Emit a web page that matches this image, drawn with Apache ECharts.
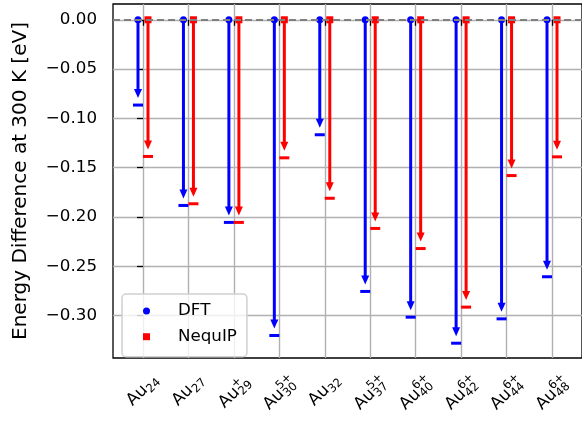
<!DOCTYPE html>
<html><head><meta charset="utf-8">
<script src="https://cdn.jsdelivr.net/npm/echarts@6/dist/echarts.min.js"></script>
<style>html,body{margin:0;padding:0;background:#fff}#c{width:582px;height:423px}</style>
</head><body><div id="c"></div>
<script>
// ---- data ----
const labelBase = 'Au';
const labelSub = ['24','27','29','30','32','37','40','42','44','48'];
const labelSup = ['','','+','5+','','5+','6+','6+','6+','6+'];
const dftValues    = [-0.0865,-0.1883,-0.2055,-0.3202,-0.1166,-0.2755,-0.3016,-0.3280,-0.3033,-0.2606];
const nequipValues = [-0.1386,-0.1866,-0.2055,-0.1400,-0.1810,-0.2116,-0.2320,-0.2914,-0.1580,-0.1390];
const yTicks = [0,-0.05,-0.10,-0.15,-0.20,-0.25,-0.30];
const xTicks = [0,1,2,3,4,5,6,7,8,9];
const seriesNames = ['DFT','NequIP'];

// ---- layout / style ----
const FONT = 'DejaVu Sans';
const Y_MIN = -0.343, Y_MAX = 0.016;
const X_MIN = -0.66, X_MAX = 9.66;
const OFF = 0.11;
const BLUE = '#0000ff', RED = '#ff0000';

const mctx = document.createElement('canvas').getContext('2d');
function textW(t, size){ mctx.font = size + 'px "' + FONT + '"'; return mctx.measureText(t).width; }

function arrowRenderer(color, offset, marker){
  return function(params, api){
    const i = api.value(0), v = api.value(1);
    const p0 = api.coord([i + offset, 0]);
    const p1 = api.coord([i + offset, v]);
    const x = p0[0];
    const tipY = p1[1] - 7;
    const headH = 9, headW = 8;
    const children = [
      {type:'line', shape:{x1:x, y1:p0[1], x2:x, y2:tipY - headH + 1}, style:{stroke:color, lineWidth:3}},
      {type:'polygon', shape:{points:[[x - headW/2, tipY - headH],[x + headW/2, tipY - headH],[x, tipY]]}, style:{fill:color}},
      {type:'line', shape:{x1:x - 5, y1:p1[1], x2:x + 5, y2:p1[1]}, style:{stroke:color, lineWidth:3}}
    ];
    if (marker === 'circle') {
      children.push({type:'circle', shape:{cx:x, cy:p0[1], r:3.5}, style:{fill:color}});
    } else {
      children.push({type:'rect', shape:{x:x - 3.5, y:p0[1] - 3.5, width:7, height:7}, style:{fill:color}});
    }
    return {type:'group', children: children};
  };
}

function labelRenderer(params, api){
  const i = api.value(0);
  const p = api.coord([i, Y_MIN]);
  const big = 16.7, small = 11.7;
  const sub = labelSub[i], sup = labelSup[i];
  const wA = textW(labelBase, big);
  const wS = Math.max(textW(sub, small), sup ? textW(sup, small) : 0);
  const W = wA + wS;
  const yTop = sup ? -15.5 : -12.2, yBot = 3.5;
  const c = Math.SQRT1_2;
  const corners = [[0,yTop],[W,yTop],[0,yBot],[W,yBot]].map(q => [c*(q[0]+q[1]), c*(q[1]-q[0])]);
  const minX = Math.min(...corners.map(q=>q[0])), maxX = Math.max(...corners.map(q=>q[0]));
  const minY = Math.min(...corners.map(q=>q[1]));
  const gx = p[0] - (minX + maxX)/2;
  const gy = p[1] + 14 - minY;
  const children = [
    {type:'text', style:{text:labelBase, x:0, y:-0.3*big, font: big + 'px "' + FONT + '"', fill:'#000', align:'left', verticalAlign:'middle'}},
    {type:'text', style:{text:sub, x:wA, y:3.5 - 0.3*small, font: small + 'px "' + FONT + '"', fill:'#000', align:'left', verticalAlign:'middle'}}
  ];
  if (sup) children.push({type:'text', style:{text:sup, x:wA, y:-7 - 0.3*small, font: small + 'px "' + FONT + '"', fill:'#000', align:'left', verticalAlign:'middle'}});
  return {type:'group', x:gx, y:gy, rotation:Math.PI/4, children: children};
}

const chart = echarts.init(document.getElementById('c'), null, {renderer:'canvas'});
chart.setOption({
  animation:false,
  backgroundColor:'#fff',
  grid:{left:113, top:4, right:-4, bottom:65, show:true, borderColor:'#000', borderWidth:1.3, backgroundColor:'transparent'},
  xAxis:{
    type:'value', min:X_MIN, max:X_MAX, splitNumber:10,
    axisLine:{show:false},
    axisTick:{show:true, length:6, lineStyle:{color:'#000', width:1.3}, customValues:xTicks},
    axisLabel:{show:false, customValues:xTicks},
    splitLine:{show:true, lineStyle:{color:'#b0b0b0', width:1.4}}
  },
  yAxis:{
    type:'value', min:Y_MIN, max:Y_MAX, splitNumber:7,
    name:'Energy Difference at 300 K [eV]', nameLocation:'middle', nameGap:82,
    nameTextStyle:{fontFamily:FONT, fontSize:20, color:'#000'},
    axisLine:{show:false},
    axisTick:{show:true, length:6, lineStyle:{color:'#000', width:1.3}, customValues:yTicks},
    axisLabel:{show:true, margin:16, fontFamily:FONT, fontSize:16.7, color:'#000', customValues:yTicks,
      formatter: v => (v < -1e-9 ? '\u2212' : '') + Math.abs(v).toFixed(2)},
    splitLine:{show:true, lineStyle:{color:'#b0b0b0', width:1.4}}
  },
  legend:{
    orient:'vertical', left:122, top:294,
    padding:[8, 10, 11, 21],
    itemWidth:7, itemHeight:7, itemGap:7.7,
    backgroundColor:'rgba(255,255,255,0.8)', borderColor:'#d0d0d0', borderWidth:1.5, borderRadius:4,
    textStyle:{fontFamily:FONT, fontSize:16.7, lineHeight:18, color:'#000', padding:[0,0,0,23]},
    data:[{name:seriesNames[0], icon:'circle', itemStyle:{color:BLUE}}, {name:seriesNames[1], icon:'rect', itemStyle:{color:RED}}]
  },
  series:[
    {type:'custom', name:seriesNames[0], z:3, itemStyle:{color:BLUE}, renderItem:arrowRenderer(BLUE, -OFF, 'circle'),
      data: dftValues.map((v,i)=>[i, v])},
    {type:'custom', name:seriesNames[1], z:3, itemStyle:{color:RED}, renderItem:arrowRenderer(RED, OFF, 'rect'),
      data: nequipValues.map((v,i)=>[i, v])},
    {type:'custom', name:'labels', z:5, silent:true, renderItem:labelRenderer,
      data: xTicks.map(i=>[i]),
      markLine:{silent:true, symbol:'none', label:{show:false},
        lineStyle:{color:'#808080', type:[7,4], width:2}, data:[{yAxis:0}]}}
  ]
});
</script></body></html>
